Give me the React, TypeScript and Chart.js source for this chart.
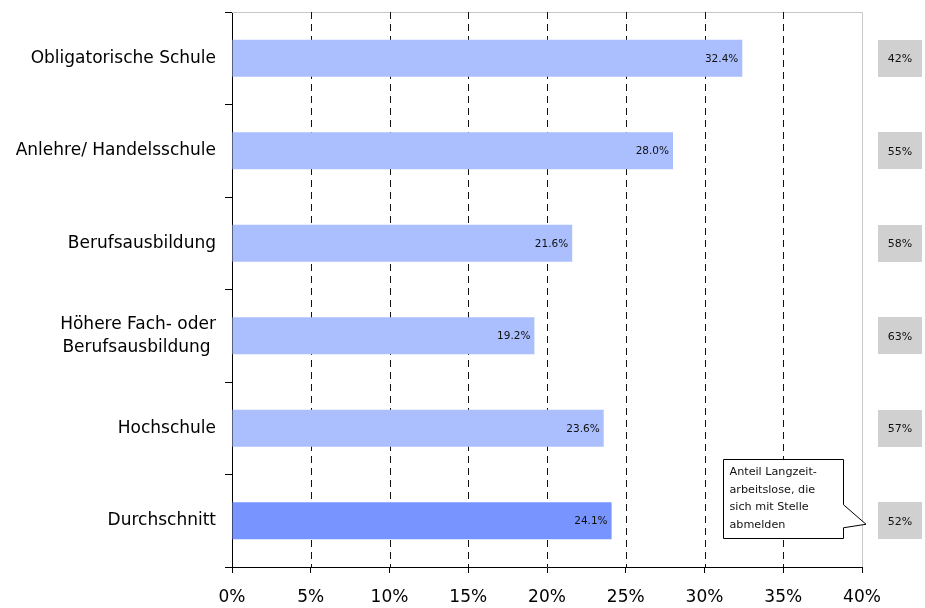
import React, { useEffect, useRef } from "react";
import { Chart, registerables } from "chart.js";

Chart.register(...registerables);

// ---- data ----
const categories: (string | string[])[] = [
  "Obligatorische Schule",
  "Anlehre/ Handelsschule",
  "Berufsausbildung",
  ["Höhere Fach- oder", "Berufsausbildung "],
  "Hochschule",
  "Durchschnitt",
];
const values: number[] = [32.4, 28.0, 21.6, 19.2, 23.6, 24.1];
const sharesWithJob: number[] = [42, 55, 58, 63, 57, 52];
const xTickValues: number[] = [0, 5, 10, 15, 20, 25, 30, 35, 40];
const calloutLines: string[] = ["Anteil Langzeit-", "arbeitslose, die", "sich mit Stelle", "abmelden"];
const highlightIndex = 5;

const FONT = '"DejaVu Sans", sans-serif';
const LIGHT = "#abbfff";
const DARK = "#7894ff";

const decorPlugin = {
  id: "decor",
  beforeDatasetsDraw(chart: any) {
    const { ctx, chartArea: a, scales } = chart;
    const x = scales.x;
    const xMax = xTickValues[xTickValues.length - 1];
    ctx.save();
    ctx.lineWidth = 1;
    ctx.strokeStyle = "#c8c8c8";
    ctx.beginPath();
    ctx.moveTo(a.left, Math.round(a.top) + 0.5);
    ctx.lineTo(Math.round(x.getPixelForValue(xMax)) + 0.5, Math.round(a.top) + 0.5);
    ctx.lineTo(Math.round(x.getPixelForValue(xMax)) + 0.5, a.bottom);
    ctx.stroke();
    ctx.strokeStyle = "#111";
    ctx.setLineDash([7, 5]);
    for (const v of xTickValues) {
      if (v === 0 || v === xMax) continue;
      const px = Math.round(x.getPixelForValue(v)) + 0.5;
      ctx.beginPath();
      ctx.moveTo(px, a.top);
      ctx.lineTo(px, a.bottom);
      ctx.stroke();
    }
    ctx.restore();
  },
  afterDatasetsDraw(chart: any) {
    const { ctx, chartArea: a } = chart;
    const meta = chart.getDatasetMeta(0);
    ctx.save();
    // value labels inside bars
    ctx.font = `10.5px ${FONT}`;
    ctx.fillStyle = "#111";
    ctx.textAlign = "right";
    ctx.textBaseline = "middle";
    meta.data.forEach((bar: any, i: number) => {
      ctx.fillText(values[i].toFixed(1) + "%", bar.x - 4, bar.y + 1);
    });
    // right-side boxes
    meta.data.forEach((bar: any, i: number) => {
      const h = bar.height;
      const left = a.right + 16;
      const w = 44;
      ctx.fillStyle = "#d0d0d0";
      ctx.fillRect(left, Math.round(bar.y - h / 2), w, Math.round(h));
      ctx.fillStyle = "#111";
      ctx.font = `11px ${FONT}`;
      ctx.textAlign = "center";
      ctx.fillText(sharesWithJob[i] + "%", left + w / 2, bar.y + 1);
    });
    // callout
    const hb = meta.data[highlightIndex];
    const cy = hb.y;
    const L = Math.round(a.right - 139) + 0.5;
    const R = Math.round(a.right - 19) + 0.5;
    const T = Math.round(cy - 62) + 0.5;
    const B = Math.round(cy + 17) + 0.5;
    ctx.beginPath();
    ctx.moveTo(L, T);
    ctx.lineTo(R, T);
    ctx.lineTo(R, cy - 16);
    ctx.lineTo(a.right + 4, cy + 3.5);
    ctx.lineTo(R, cy + 7);
    ctx.lineTo(R, B);
    ctx.lineTo(L, B);
    ctx.closePath();
    ctx.fillStyle = "#fff";
    ctx.fill();
    ctx.strokeStyle = "#000";
    ctx.lineWidth = 1;
    ctx.stroke();
    ctx.fillStyle = "#111";
    ctx.font = `11.2px ${FONT}`;
    ctx.textAlign = "left";
    ctx.textBaseline = "middle";
    calloutLines.forEach((line, i) => {
      ctx.fillText(line, L + 6, T + 13 + i * 17.4);
    });
    ctx.restore();
  },
};

export default function App() {
  const ref = useRef<HTMLCanvasElement | null>(null);
  useEffect(() => {
    if (!ref.current) return;
    const chart = new Chart(ref.current, {
      type: "bar",
      data: {
        labels: categories as any,
        datasets: [
          {
            data: values,
            backgroundColor: values.map((_, i) => (i === highlightIndex ? DARK : LIGHT)),
            borderWidth: 0,
            barPercentage: 0.4,
            categoryPercentage: 1,
          },
        ],
      },
      options: {
        indexAxis: "y",
        animation: false,
        responsive: true,
        maintainAspectRatio: false,
        layout: { padding: { left: 0, right: 63, top: 12, bottom: 0 } },
        plugins: { legend: { display: false }, tooltip: { enabled: false } },
        scales: {
          x: {
            type: "linear",
            min: 0,
            max: 40,
            afterBuildTicks: (scale: any) => {
              scale.ticks = xTickValues.map((v) => ({ value: v }));
            },
            afterFit: (scale: any) => {
              scale.height = 41;
              scale.paddingLeft = 0;
              scale.paddingRight = 0;
            },
            ticks: {
              font: { family: FONT, size: 17 },
              color: "#000",
              padding: 14,
              maxRotation: 0,
              callback: (v: any) => v + "%",
            },
            grid: {
              drawOnChartArea: false,
              drawTicks: true,
              tickLength: 6,
              tickColor: "#000",
              color: "#000",
            },
            border: { display: true, color: "#000", width: 1 },
          },
          y: {
            type: "category",
            afterFit: (scale: any) => {
              scale.width = 232;
              scale.paddingTop = 0;
              scale.paddingBottom = 0;
            },
            ticks: {
              font: { family: FONT, size: 17, lineHeight: 1.35 },
              color: "#000",
              padding: 9,
            },
            grid: {
              offset: true,
              drawOnChartArea: false,
              drawTicks: true,
              tickLength: 7,
              tickColor: "#000",
              color: "#000",
            },
            border: { display: true, color: "#000", width: 1 },
          },
        },
      },
      plugins: [decorPlugin],
    });
    return () => chart.destroy();
  }, []);
  return (
    <div style={{ position: "fixed", left: 0, top: 0, width: 925, height: 608, background: "#fff" }}>
      <canvas ref={ref} />
    </div>
  );
}
